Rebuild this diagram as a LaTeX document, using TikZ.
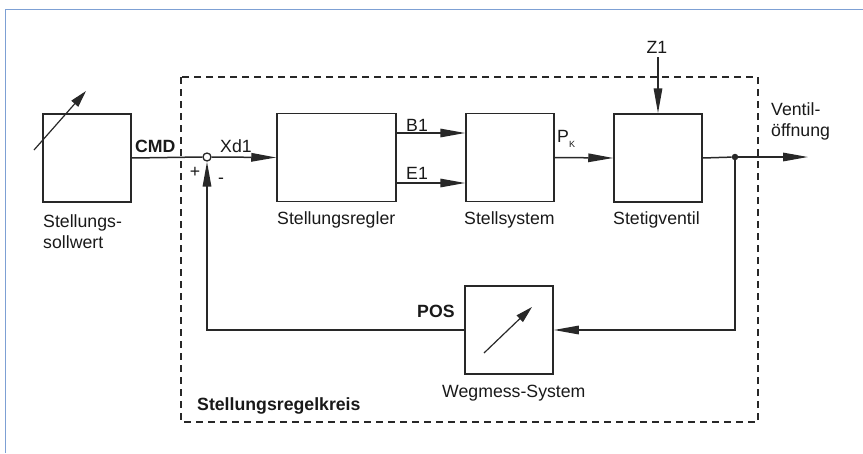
\documentclass[tikz,border=0pt]{standalone}
\usepackage{fontspec}
\setmainfont{Liberation Sans}
\usetikzlibrary{arrows.meta}
\definecolor{frameblue}{RGB}{125,160,212}
\definecolor{ink}{RGB}{25,25,25}
\definecolor{linec}{RGB}{40,40,40}
\begin{document}
\begin{tikzpicture}[x=1pt,y=-1pt,
  every node/.style={font=\fontsize{17.7}{20}\selectfont, text=ink},
  blockbox/.style={draw=linec, line width=1.5pt, minimum width=88pt, minimum height=88pt, inner sep=0pt},
  conn/.style={draw=linec, line width=1.5pt},
  arr/.style={conn, -{Triangle[length=25pt,width=8.5pt]}},
  lbl/.style={anchor=base west, inner sep=0pt},
  bold/.style={lbl, font=\fontsize{17.7}{20}\selectfont\bfseries}
]
\useasboundingbox (0,0) rectangle (863,453);
% frame
\draw[frameblue, line width=1.8pt] (5.5,453) -- (5.5,9.5) -- (863,9.5);
% dashed loop
\draw[linec, line width=1.3pt, dash pattern=on 7pt off 5pt] (181,77) rectangle (758,422);
% blocks
\node[blockbox] (sp) at (87,158) {};
\node[blockbox, minimum width=119pt] (reg) at (336.5,157.5) {};
\node[blockbox] (sys) at (510,157.5) {};
\node[blockbox] (valve) at (658,158) {};
\node[blockbox] (wm) at (509,330) {};
% sum point and branch dot
\node[circle, draw=linec, line width=1.3pt, fill=white, minimum size=8pt, inner sep=0pt] (sum) at (207,157) {};
\node[circle, fill=linec, minimum size=6.5pt, inner sep=0pt] (dot) at (735,157) {};
\coordinate (out) at (808,157);
\coordinate (z1top) at (658,57);
% adjustable arrows in blocks
\coordinate (spa) at (34,150);
\coordinate (spb) at (86,91);
\draw[conn, line width=1.2pt, -{Triangle[length=17pt,width=9pt]}] (spa) -- (spb);
\coordinate (wma) at (484,353);
\coordinate (wmb) at (532,307);
\draw[conn, line width=1.2pt, -{Triangle[length=17pt,width=9pt]}] (wma) -- (wmb);
% connectors
\draw[conn] (sp.east) -- (sum.west);
\draw[arr] (sum.east) -- (reg.west);
\draw[arr] ([yshift=24.5pt]reg.east) -- ([yshift=24.5pt]sys.west);
\draw[arr] ([yshift=-25.5pt]reg.east) -- ([yshift=-25.5pt]sys.west);
\draw[arr] (sys.east) -- (valve.west);
\draw[arr] (z1top) -- (valve.north);
\draw[conn] (valve.east) -- (dot);
\draw[arr] (dot) -- (out);
\draw[arr] (dot) |- (wm.east);
\draw[arr] (wm.west) -| (sum.south);
% labels
\node[bold] (cmd) at (135,152) {CMD};
\node[lbl] (xd1) at (220,152) {Xd1};
\node[lbl] (sp1) at (43,227) {Stellungs-};
\node[lbl] (sp2) at (43,248) {sollwert};
\node[lbl] (b1) at (406,131) {B1};
\node[lbl] (e1) at (406,179) {E1};
\node[lbl] (pk) at (557,142) {P\raisebox{-5pt}{\fontsize{9}{10}\selectfont K}};
\node[lbl] (regl) at (277,224) {Stellungsregler};
\node[lbl] (sysl) at (464,224) {Stellsystem};
\node[lbl] (vall) at (613,224) {Stetigventil};
\node[anchor=base, inner sep=0pt] (z1) at (657,53) {Z1};
\node[lbl] (ve1) at (771,115) {Ventil-};
\node[lbl] (ve2) at (771,136) {öffnung};
\node[bold] (pos) at (417,317) {POS};
\node[bold] (krs) at (197,410) {Stellungsregelkreis};
\node[lbl] (wml) at (442,397) {Wegmess-System};
\node[anchor=center, inner sep=0pt] (plus) at (195,172) {+};
\node[anchor=center, inner sep=0pt] (minus) at (221,181) {-};
\end{tikzpicture}
\end{document}
